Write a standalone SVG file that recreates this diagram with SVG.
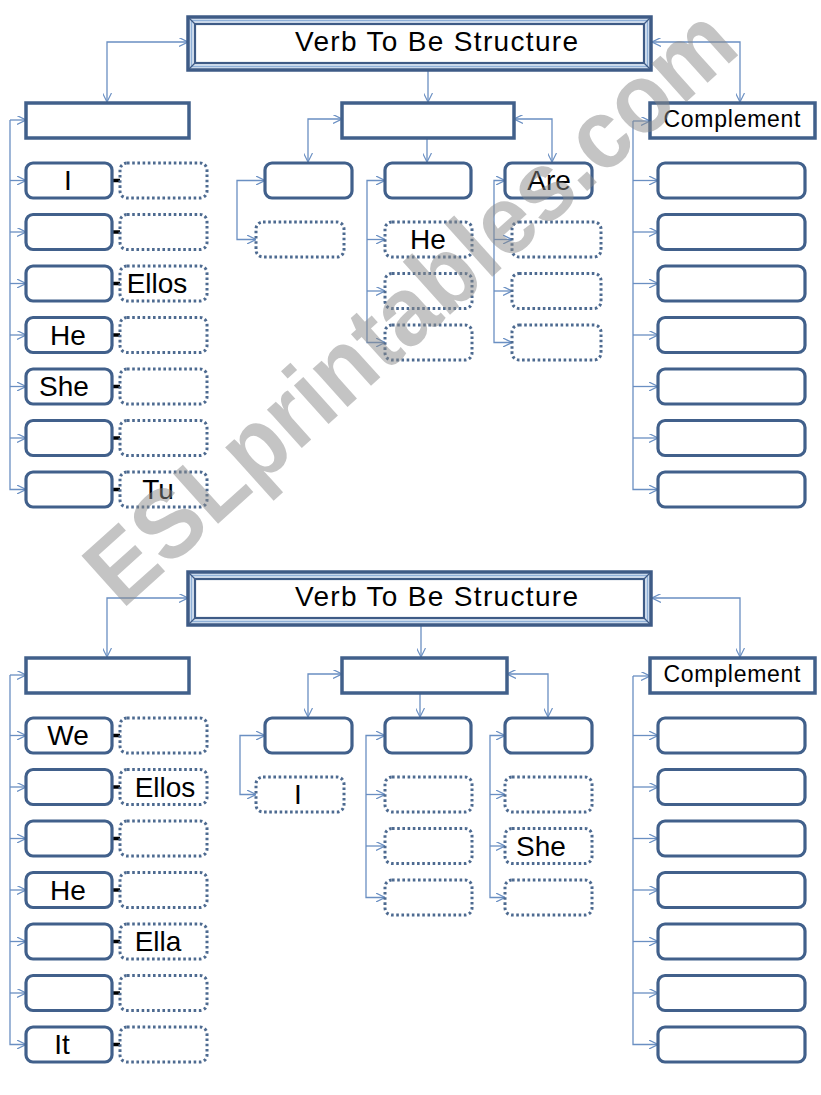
<svg xmlns="http://www.w3.org/2000/svg" width="821" height="1095" viewBox="0 0 821 1095">
<defs>
<marker id="ah" viewBox="0 0 10 10" refX="10" refY="5" markerWidth="9" markerHeight="9" markerUnits="userSpaceOnUse" orient="auto-start-reverse">
<path d="M0,0 L10,5 L0,10" fill="none" stroke="#6a8fc2" stroke-width="1.3"/>
</marker>
<style>
.sq{fill:#fff;stroke:#41608b;stroke-width:3.5}
.rb{fill:#fff;stroke:#41608b;stroke-width:3.2}
.db{fill:#fff;stroke:#4d6a90;stroke-width:3;stroke-dasharray:2.6 2.6}
.ln{fill:none;stroke:#6a8fc2;stroke-width:1.3}
.a2{marker-start:url(#ah);marker-end:url(#ah)}
.a1{marker-end:url(#ah)}
.tk{stroke:#000;stroke-width:3.5}
.lb{font-family:"Liberation Sans","DejaVu Sans",sans-serif;font-size:28px;fill:#000;text-anchor:middle}
.cp{font-family:"Liberation Sans","DejaVu Sans",sans-serif;font-size:23px;fill:#000;text-anchor:middle}
.tt{font-family:"Liberation Sans","DejaVu Sans",sans-serif;font-size:28px;fill:#000}
.fo{fill:#dde7f3;stroke:#3e5b86;stroke-width:3.5}
.fi{fill:#fff;stroke:#3e5b86;stroke-width:2.2}
.fl{fill:none;stroke:#8fb0d8;stroke-width:1.5}
.bv{stroke:#3e5b86;stroke-width:1.2}
</style>
</defs>
<rect width="821" height="1095" fill="#fff"/>

<!-- ================= TOP SECTION ================= -->
<g id="connectors-top">
<path class="ln a2" d="M188,42 H107 V102"/>
<path class="ln a2" d="M652,42 H740 V102"/>
<path class="ln a1" d="M428,70 V102"/>
<path class="ln a2" d="M342,119 H308 V162"/>
<path class="ln a2" d="M514,119 H552 V162"/>
<path class="ln a1" d="M427,138 V162"/>
<path class="ln a2" d="M265,180.5 H237 V239.5 H256"/>
<path class="ln a2" d="M385,180.5 H367 V342.5 H385"/>
<path class="ln a1" d="M367,239.5 H385"/>
<path class="ln a1" d="M367,291 H385"/>
<path class="ln a2" d="M505,180.5 H494 V342.5 H512"/>
<path class="ln a1" d="M494,239.5 H512"/>
<path class="ln a1" d="M494,291 H512"/>
<path class="ln a1" d="M10,120 V489.5 H26"/>
<path class="ln a1" d="M10,120 H26"/>
<path class="ln a1" d="M10,180.5 H26"/>
<path class="ln a1" d="M10,232 H26"/>
<path class="ln a1" d="M10,283.5 H26"/>
<path class="ln a1" d="M10,335 H26"/>
<path class="ln a1" d="M10,386.5 H26"/>
<path class="ln a1" d="M10,438 H26"/>
<path class="ln a1" d="M633,121 V489.5 H658"/>
<path class="ln a1" d="M633,121 H650"/>
<path class="ln a1" d="M633,180.5 H658"/>
<path class="ln a1" d="M633,232 H658"/>
<path class="ln a1" d="M633,283.5 H658"/>
<path class="ln a1" d="M633,335 H658"/>
<path class="ln a1" d="M633,386.5 H658"/>
<path class="ln a1" d="M633,438 H658"/>
<line class="tk" x1="112" y1="180.5" x2="120" y2="180.5"/>
<line class="tk" x1="112" y1="232" x2="120" y2="232"/>
<line class="tk" x1="112" y1="283.5" x2="120" y2="283.5"/>
<line class="tk" x1="112" y1="335" x2="120" y2="335"/>
<line class="tk" x1="112" y1="386.5" x2="120" y2="386.5"/>
<line class="tk" x1="112" y1="438" x2="120" y2="438"/>
<line class="tk" x1="112" y1="489.5" x2="120" y2="489.5"/>
</g>

<g id="title-top">
<rect class="fo" x="188" y="17" width="463" height="53"/>
<rect class="fl" x="191.5" y="20.5" width="456" height="46"/>
<rect class="fi" x="195" y="24" width="449" height="39"/>
<line class="bv" x1="188" y1="17" x2="195" y2="24"/>
<line class="bv" x1="651" y1="17" x2="644" y2="24"/>
<line class="bv" x1="188" y1="70" x2="195" y2="63"/>
<line class="bv" x1="651" y1="70" x2="644" y2="63"/>
<text class="tt" x="295" y="51" textLength="283" lengthAdjust="spacing">Verb To Be Structure</text>
</g>

<g id="subject-top"><rect class="sq" x="26" y="103" width="163" height="35"/></g>
<g id="verb-top"><rect class="sq" x="342" y="103" width="172" height="35"/></g>
<g id="complement-top"><rect class="sq" x="650" y="103" width="165" height="35"/><text class="cp" x="732" y="127" textLength="137" lengthAdjust="spacing">Complement</text></g>

<g id="pron-top-1"><rect class="rb" x="26" y="163" width="86" height="35" rx="7"/><text class="lb" x="68" y="190">I</text></g>
<g id="pron-top-2"><rect class="rb" x="26" y="214.5" width="86" height="35" rx="7"/></g>
<g id="pron-top-3"><rect class="rb" x="26" y="266" width="86" height="35" rx="7"/></g>
<g id="pron-top-4"><rect class="rb" x="26" y="317.5" width="86" height="35" rx="7"/><text class="lb" x="68" y="344.5">He</text></g>
<g id="pron-top-5"><rect class="rb" x="26" y="369" width="86" height="35" rx="7"/><text class="lb" x="64" y="396">She</text></g>
<g id="pron-top-6"><rect class="rb" x="26" y="420.5" width="86" height="35" rx="7"/></g>
<g id="pron-top-7"><rect class="rb" x="26" y="472" width="86" height="35" rx="7"/></g>

<g id="trans-top-1"><rect class="db" x="120" y="163" width="87" height="35" rx="7"/></g>
<g id="trans-top-2"><rect class="db" x="120" y="214.5" width="87" height="35" rx="7"/></g>
<g id="trans-top-3"><rect class="db" x="120" y="266" width="87" height="35" rx="7"/><text class="lb" x="157" y="293">Ellos</text></g>
<g id="trans-top-4"><rect class="db" x="120" y="317.5" width="87" height="35" rx="7"/></g>
<g id="trans-top-5"><rect class="db" x="120" y="369" width="87" height="35" rx="7"/></g>
<g id="trans-top-6"><rect class="db" x="120" y="420.5" width="87" height="35" rx="7"/></g>
<g id="trans-top-7"><rect class="db" x="120" y="472" width="87" height="35" rx="7"/><text class="lb" x="158" y="499">Tu</text></g>

<g id="verbform-top-1"><rect class="rb" x="265" y="163" width="87" height="35" rx="7"/></g>
<g id="verbform-top-2"><rect class="rb" x="385" y="163" width="86" height="35" rx="7"/></g>
<g id="verbform-top-3"><rect class="rb" x="505" y="163" width="87" height="35" rx="7"/><text class="lb" x="549" y="190">Are</text></g>
<g id="vf1-top-1"><rect class="db" x="256" y="222" width="88" height="35" rx="7"/></g>
<g id="vf2-top-1"><rect class="db" x="385" y="222" width="87" height="35" rx="7"/><text class="lb" x="428" y="249">He</text></g>
<g id="vf2-top-2"><rect class="db" x="385" y="273.5" width="87" height="35" rx="7"/></g>
<g id="vf2-top-3"><rect class="db" x="385" y="325" width="87" height="35" rx="7"/></g>
<g id="vf3-top-1"><rect class="db" x="512" y="222" width="89" height="35" rx="7"/></g>
<g id="vf3-top-2"><rect class="db" x="512" y="273.5" width="89" height="35" rx="7"/></g>
<g id="vf3-top-3"><rect class="db" x="512" y="325" width="89" height="35" rx="7"/></g>

<g id="comp-top-1"><rect class="rb" x="658" y="163" width="147" height="35" rx="7"/></g>
<g id="comp-top-2"><rect class="rb" x="658" y="214.5" width="147" height="35" rx="7"/></g>
<g id="comp-top-3"><rect class="rb" x="658" y="266" width="147" height="35" rx="7"/></g>
<g id="comp-top-4"><rect class="rb" x="658" y="317.5" width="147" height="35" rx="7"/></g>
<g id="comp-top-5"><rect class="rb" x="658" y="369" width="147" height="35" rx="7"/></g>
<g id="comp-top-6"><rect class="rb" x="658" y="420.5" width="147" height="35" rx="7"/></g>
<g id="comp-top-7"><rect class="rb" x="658" y="472" width="147" height="35" rx="7"/></g>

<!-- ================= BOTTOM SECTION ================= -->
<g id="connectors-bottom">
<path class="ln a2" d="M188,598 H107 V657"/>
<path class="ln a2" d="M652,598 H740 V657"/>
<path class="ln a1" d="M421,623 V657"/>
<path class="ln a2" d="M342,674 H308 V717"/>
<path class="ln a2" d="M507,674 H548 V717"/>
<path class="ln a1" d="M420,693 V717"/>
<path class="ln a2" d="M265,735.5 H240 V794.5 H256"/>
<path class="ln a2" d="M385,735.5 H366 V897.5 H385"/>
<path class="ln a1" d="M366,794.5 H385"/>
<path class="ln a1" d="M366,846 H385"/>
<path class="ln a2" d="M505,735.5 H490 V897.5 H505"/>
<path class="ln a1" d="M490,794.5 H505"/>
<path class="ln a1" d="M490,846 H505"/>
<path class="ln a1" d="M10,675 V1044.5 H26"/>
<path class="ln a1" d="M10,675 H26"/>
<path class="ln a1" d="M10,735.5 H26"/>
<path class="ln a1" d="M10,787 H26"/>
<path class="ln a1" d="M10,838.5 H26"/>
<path class="ln a1" d="M10,890 H26"/>
<path class="ln a1" d="M10,941.5 H26"/>
<path class="ln a1" d="M10,993 H26"/>
<path class="ln a1" d="M633,676 V1044.5 H658"/>
<path class="ln a1" d="M633,676 H650"/>
<path class="ln a1" d="M633,735.5 H658"/>
<path class="ln a1" d="M633,787 H658"/>
<path class="ln a1" d="M633,838.5 H658"/>
<path class="ln a1" d="M633,890 H658"/>
<path class="ln a1" d="M633,941.5 H658"/>
<path class="ln a1" d="M633,993 H658"/>
<line class="tk" x1="112" y1="735.5" x2="120" y2="735.5"/>
<line class="tk" x1="112" y1="787" x2="120" y2="787"/>
<line class="tk" x1="112" y1="838.5" x2="120" y2="838.5"/>
<line class="tk" x1="112" y1="890" x2="120" y2="890"/>
<line class="tk" x1="112" y1="941.5" x2="120" y2="941.5"/>
<line class="tk" x1="112" y1="993" x2="120" y2="993"/>
<line class="tk" x1="112" y1="1044.5" x2="120" y2="1044.5"/>
</g>

<g id="title-bottom">
<rect class="fo" x="188" y="572" width="463" height="53"/>
<rect class="fl" x="191.5" y="575.5" width="456" height="46"/>
<rect class="fi" x="195" y="579" width="449" height="39"/>
<line class="bv" x1="188" y1="572" x2="195" y2="579"/>
<line class="bv" x1="651" y1="572" x2="644" y2="579"/>
<line class="bv" x1="188" y1="625" x2="195" y2="618"/>
<line class="bv" x1="651" y1="625" x2="644" y2="618"/>
<text class="tt" x="295" y="606" textLength="283" lengthAdjust="spacing">Verb To Be Structure</text>
</g>

<g id="subject-bottom"><rect class="sq" x="26" y="658" width="163" height="35"/></g>
<g id="verb-bottom"><rect class="sq" x="342" y="658" width="165" height="35"/></g>
<g id="complement-bottom"><rect class="sq" x="650" y="658" width="165" height="35"/><text class="cp" x="732" y="682" textLength="137" lengthAdjust="spacing">Complement</text></g>

<g id="pron-bot-1"><rect class="rb" x="26" y="718" width="86" height="35" rx="7"/><text class="lb" x="68" y="745">We</text></g>
<g id="pron-bot-2"><rect class="rb" x="26" y="769.5" width="86" height="35" rx="7"/></g>
<g id="pron-bot-3"><rect class="rb" x="26" y="821" width="86" height="35" rx="7"/></g>
<g id="pron-bot-4"><rect class="rb" x="26" y="872.5" width="86" height="35" rx="7"/><text class="lb" x="68" y="899.5">He</text></g>
<g id="pron-bot-5"><rect class="rb" x="26" y="924" width="86" height="35" rx="7"/></g>
<g id="pron-bot-6"><rect class="rb" x="26" y="975.5" width="86" height="35" rx="7"/></g>
<g id="pron-bot-7"><rect class="rb" x="26" y="1027" width="86" height="35" rx="7"/><text class="lb" x="62" y="1054">It</text></g>

<g id="trans-bot-1"><rect class="db" x="120" y="718" width="87" height="35" rx="7"/></g>
<g id="trans-bot-2"><rect class="db" x="120" y="769.5" width="87" height="35" rx="7"/><text class="lb" x="165" y="796.5">Ellos</text></g>
<g id="trans-bot-3"><rect class="db" x="120" y="821" width="87" height="35" rx="7"/></g>
<g id="trans-bot-4"><rect class="db" x="120" y="872.5" width="87" height="35" rx="7"/></g>
<g id="trans-bot-5"><rect class="db" x="120" y="924" width="87" height="35" rx="7"/><text class="lb" x="158" y="951">Ella</text></g>
<g id="trans-bot-6"><rect class="db" x="120" y="975.5" width="87" height="35" rx="7"/></g>
<g id="trans-bot-7"><rect class="db" x="120" y="1027" width="87" height="35" rx="7"/></g>

<g id="verbform-bot-1"><rect class="rb" x="265" y="718" width="87" height="35" rx="7"/></g>
<g id="verbform-bot-2"><rect class="rb" x="385" y="718" width="86" height="35" rx="7"/></g>
<g id="verbform-bot-3"><rect class="rb" x="505" y="718" width="87" height="35" rx="7"/></g>
<g id="vf1-bot-1"><rect class="db" x="256" y="777" width="88" height="35" rx="7"/><text class="lb" x="298" y="804">I</text></g>
<g id="vf2-bot-1"><rect class="db" x="385" y="777" width="87" height="35" rx="7"/></g>
<g id="vf2-bot-2"><rect class="db" x="385" y="828.5" width="87" height="35" rx="7"/></g>
<g id="vf2-bot-3"><rect class="db" x="385" y="880" width="87" height="35" rx="7"/></g>
<g id="vf3-bot-1"><rect class="db" x="505" y="777" width="87" height="35" rx="7"/></g>
<g id="vf3-bot-2"><rect class="db" x="505" y="828.5" width="87" height="35" rx="7"/><text class="lb" x="541" y="855.5">She</text></g>
<g id="vf3-bot-3"><rect class="db" x="505" y="880" width="87" height="35" rx="7"/></g>

<g id="comp-bot-1"><rect class="rb" x="658" y="718" width="147" height="35" rx="7"/></g>
<g id="comp-bot-2"><rect class="rb" x="658" y="769.5" width="147" height="35" rx="7"/></g>
<g id="comp-bot-3"><rect class="rb" x="658" y="821" width="147" height="35" rx="7"/></g>
<g id="comp-bot-4"><rect class="rb" x="658" y="872.5" width="147" height="35" rx="7"/></g>
<g id="comp-bot-5"><rect class="rb" x="658" y="924" width="147" height="35" rx="7"/></g>
<g id="comp-bot-6"><rect class="rb" x="658" y="975.5" width="147" height="35" rx="7"/></g>
<g id="comp-bot-7"><rect class="rb" x="658" y="1027" width="147" height="35" rx="7"/></g>

<g id="watermark">
<text x="122" y="610" transform="rotate(-42 122 610)" font-family="'Liberation Sans','DejaVu Sans',sans-serif" font-weight="bold" font-size="98" fill="#8a8a8a" fill-opacity="0.5" textLength="835" lengthAdjust="spacingAndGlyphs">ESLprintables.com</text>
</g>
</svg>
